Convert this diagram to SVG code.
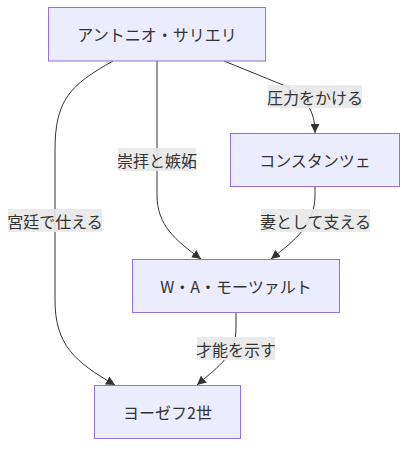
<svg xmlns="http://www.w3.org/2000/svg" width="415" height="454" viewBox="0 0 415 454">
<style>
.node rect{fill:#ECECFF;stroke:#9370DB;stroke-width:1px}
.node text{font-family:"Noto Sans CJK JP","Noto Sans",sans-serif;font-size:16px;fill:#333;text-anchor:middle;dominant-baseline:central}
.edge{fill:none;stroke:#333;stroke-width:1px}
.lbl rect{fill:#e8e8e8;opacity:0.9}
.lbl text{font-family:"Noto Sans CJK JP","Noto Sans",sans-serif;font-size:16px;fill:#333;text-anchor:middle;dominant-baseline:central}
</style>
<defs>
<marker id="arr" viewBox="0 0 10 10" refX="10" refY="5" markerUnits="userSpaceOnUse" markerWidth="9" markerHeight="9" orient="auto">
<path d="M0,0 L10,5 L0,10 z" fill="#333"/>
</marker>
</defs>
<rect width="415" height="454" fill="#fff"/>
<g id="connectors">
<path class="edge" d="M113,61 C70,85 55,100 55,150 L55,300 C55,345 75,362 115,385" marker-end="url(#arr)"/>
<path class="edge" d="M157,61 L157,195 C157,225 175,240 201,259" marker-end="url(#arr)"/>
<path class="edge" d="M224,61 L283,85 C305,95 315,110 315,133" marker-end="url(#arr)"/>
<path class="edge" d="M315,186 L315,195 C315,225 295,240 271,259" marker-end="url(#arr)"/>
<path class="edge" d="M236,312 L236,328 C236,355 220,365 197,385" marker-end="url(#arr)"/>
</g>
<g id="edge-labels">
<g class="lbl"><rect x="8" y="209" width="94" height="23"/><text x="55" y="221">宮廷で仕える</text></g>
<g class="lbl"><rect x="118" y="148" width="78" height="23"/><text x="157" y="160">崇拝と嫉妬</text></g>
<g class="lbl"><rect x="268" y="85" width="94" height="23"/><text x="315" y="97">圧力をかける</text></g>
<g class="lbl"><rect x="261" y="209" width="109" height="23"/><text x="315.5" y="221">妻として支える</text></g>
<g class="lbl"><rect x="197" y="337" width="78" height="23"/><text x="236" y="349">才能を示す</text></g>
</g>
<g id="salieri" class="node"><rect x="48.5" y="7.5" width="217" height="53.5"/><text x="157" y="34">アントニオ・サリエリ</text></g>
<g id="constanze" class="node"><rect x="230.5" y="133.5" width="169" height="53"/><text x="315" y="160">コンスタンツェ</text></g>
<g id="mozart" class="node"><rect x="132.5" y="259.5" width="207" height="53"/><text x="236" y="286">W・A・モーツァルト</text></g>
<g id="joseph" class="node"><rect x="94.5" y="385.5" width="146" height="53"/><text x="167.5" y="412">ヨーゼフ2世</text></g>
</svg>
